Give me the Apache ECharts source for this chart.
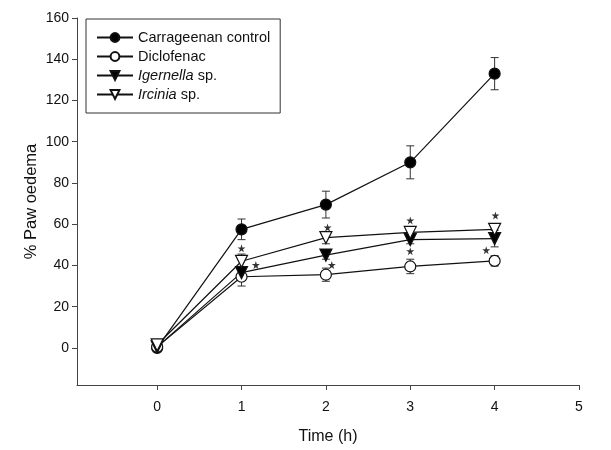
<!DOCTYPE html>
<html>
<head>
<meta charset="utf-8">
<script src="https://cdn.jsdelivr.net/npm/echarts@6/dist/echarts.min.js"></script>
<style>html,body{margin:0;padding:0;background:#fff}#c{width:611px;height:450px}</style>
</head>
<body>
<div id="c"></div>
<script>
var timeH = [0, 1, 2, 3, 4];
var carrageenan = [0, 57.5, 69.5, 90, 133];
var carrageenanErr = [0, 5, 6.5, 8, 7.8];
var diclofenac = [0.5, 34.5, 35.5, 39.5, 42.2];
var diclofenacErr = [0, 4.5, 3.2, 3.5, 2.5];
var igernella = [0.5, 36.5, 45, 52.5, 53];
var igernellaErr = [0, 3, 2, 2, 4];
var ircinia = [1.5, 42, 53.5, 56, 57.5];
var irciniaErr = [0, 3.5, 3, 2.5, 2.5];
var starPoints = [[1.0, 48.3], [1.17, 40.2], [2.02, 58.4], [2.07, 40.2], [3.0, 61.8], [3.0, 46.9], [4.01, 64.2], [3.9, 47.4]];
var xTicks = [0, 1, 2, 3, 4, 5];
var yTicks = [0, 20, 40, 60, 80, 100, 120, 140, 160];
var seriesNames = ['Carrageenan control', 'Diclofenac', 'Igernella sp.', 'Ircinia sp.'];

var FONT = 'Liberation Sans, Arial, sans-serif';
function pairs(v) { return timeH.map(function (t, i) { return [t, v[i]]; }); }
function errData(v, e) { return timeH.map(function (t, i) { return [t, v[i] - e[i], v[i] + e[i]]; }); }

function errSeries(v, e) {
  return {
    type: 'custom', silent: true, z: 1,
    data: errData(v, e),
    renderItem: function (params, api) {
      var lo = api.coord([api.value(0), api.value(1)]);
      var hi = api.coord([api.value(0), api.value(2)]);
      var w = 4;
      var st = { stroke: '#333', lineWidth: 1 };
      return { type: 'group', children: [
        { type: 'line', shape: { x1: lo[0], y1: lo[1], x2: hi[0], y2: hi[1] }, style: st },
        { type: 'line', shape: { x1: lo[0] - w, y1: lo[1], x2: lo[0] + w, y2: lo[1] }, style: st },
        { type: 'line', shape: { x1: hi[0] - w, y1: hi[1], x2: hi[0] + w, y2: hi[1] }, style: st }
      ] };
    }
  };
}

function lineSeries(name, v, symbol, fill, rot) {
  return {
    name: name, type: 'line', data: pairs(v), z: 3,
    symbol: symbol, symbolSize: symbol === 'circle' ? 11 : 12, symbolRotate: rot || 0,
    showAllSymbol: true,
    lineStyle: { color: '#111', width: 1.2 },
    itemStyle: { color: fill, borderColor: '#111', borderWidth: 1.2, opacity: 1 },
    emphasis: { disabled: true }
  };
}

var chart = echarts.init(document.getElementById('c'), null, { renderer: 'canvas' });
chart.setOption({
  animation: false,
  backgroundColor: '#fff',
  textStyle: { fontFamily: FONT },
  grid: { left: 77, right: 32, top: 18, bottom: 62, containLabel: false },
  legend: {
    orient: 'vertical', left: 86, top: 19,
    padding: [11, 10, 11, 10],
    borderColor: '#333', borderWidth: 1,
    itemWidth: 36, itemHeight: 11, itemGap: 4,
    data: seriesNames,
    textStyle: { fontFamily: FONT, fontSize: 14.5, lineHeight: 14, color: '#111',
      rich: { i: { fontStyle: 'italic', fontFamily: FONT, fontSize: 14.5, lineHeight: 14, color: '#111' } } },
    formatter: function (n) {
      if (n === 'Igernella sp.') return '{i|Igernella} sp.';
      if (n === 'Ircinia sp.') return '{i|Ircinia} sp.';
      return n;
    }
  },
  xAxis: {
    type: 'value', min: -0.95, max: 5,
    name: 'Time (h)', nameLocation: 'middle', nameGap: 44, nameMoveOverlap: false,
    nameTextStyle: { fontFamily: FONT, fontSize: 16, color: '#111' },
    axisLine: { show: true, onZero: false, lineStyle: { color: '#444', width: 1 } },
    axisTick: { show: true, length: 5, customValues: xTicks, lineStyle: { color: '#444' } },
    axisLabel: { customValues: xTicks, margin: 15, fontFamily: FONT, fontSize: 14, color: '#111' },
    splitLine: { show: false }
  },
  yAxis: {
    type: 'value', min: -18, max: 160,
    name: '% Paw oedema', nameLocation: 'middle', nameGap: 37, nameMoveOverlap: false,
    nameTextStyle: { fontFamily: FONT, fontSize: 16.5, color: '#111' },
    axisLine: { show: true, onZero: false, lineStyle: { color: '#444', width: 1 } },
    axisTick: { show: true, length: 5, customValues: yTicks, lineStyle: { color: '#444' } },
    axisLabel: { customValues: yTicks, margin: 8, fontFamily: FONT, fontSize: 14, color: '#111' },
    splitLine: { show: false }
  },
  series: [
    errSeries(carrageenan, carrageenanErr),
    errSeries(diclofenac, diclofenacErr),
    errSeries(igernella, igernellaErr),
    errSeries(ircinia, irciniaErr),
    lineSeries(seriesNames[0], carrageenan, 'circle', '#000'),
    lineSeries(seriesNames[1], diclofenac, 'circle', '#fff'),
    lineSeries(seriesNames[2], igernella, 'triangle', '#000', 180),
    lineSeries(seriesNames[3], ircinia, 'triangle', '#fff', 180),
    {
      type: 'scatter', silent: true, z: 4, data: starPoints,
      symbol: 'path://M50,0 L61,35 L98,35 L68,57 L79,91 L50,70 L21,91 L32,57 L2,35 L39,35 Z',
      symbolSize: 8, itemStyle: { color: '#000' }
    }
  ]
});
</script>
</body>
</html>
